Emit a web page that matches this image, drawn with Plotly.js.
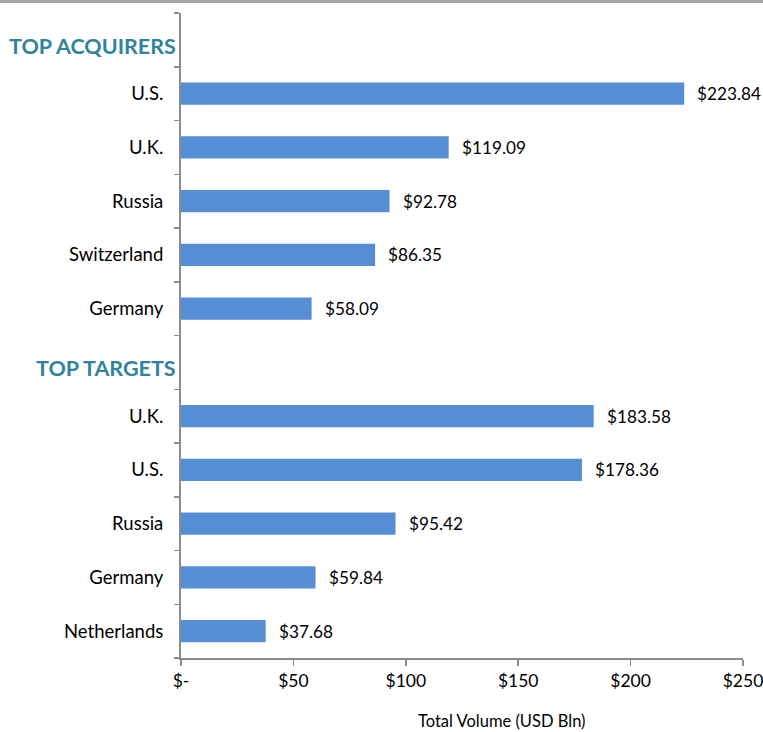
<!DOCTYPE html>
<html>
<head>
<meta charset="utf-8">
<script src="https://cdn.plot.ly/plotly-3.0.1.min.js"></script>
<style>html,body{margin:0;padding:0;background:#fff;}#chart{width:763px;height:732px;}</style>
</head>
<body>
<div id="chart"></div>
<script>
const headerAcquirers = 'TOP ACQUIRERS';
const acquirers = ['U.S.', 'U.K.', 'Russia', 'Switzerland', 'Germany'];
const acquirerValues = [223.84, 119.09, 92.78, 86.35, 58.09];
const headerTargets = 'TOP TARGETS';
const targets = ['U.K.', 'U.S.', 'Russia', 'Germany', 'Netherlands'];
const targetValues = [183.58, 178.36, 95.42, 59.84, 37.68];
const xTickVals = [0, 50, 100, 150, 200, 250];
const xTickText = ['$-', '$50', '$100', '$150', '$200', '$250'];
const xTitle = 'Total Volume (USD Bln)';

// build unique category keys
const cats = [], labels = [], barY = [], barX = [];
cats.push('H1'); labels.push('');
acquirers.forEach((c, i) => { const k = 'A' + i; cats.push(k); labels.push(c); barY.push(k); barX.push(acquirerValues[i]); });
cats.push('H2'); labels.push('');
targets.forEach((c, i) => { const k = 'T' + i; cats.push(k); labels.push(c); barY.push(k); barX.push(targetValues[i]); });

const font = 'Lato, "Open Sans", sans-serif';

const trace = {
  type: 'bar', orientation: 'h', x: barX, y: barY,
  marker: {color: '#558ED5'}, hoverinfo: 'none', cliponaxis: false
};

const annotations = barY.map((y, i) => ({
  x: barX[i], y: y, xref: 'x', yref: 'y', text: '$' + barX[i].toFixed(2),
  showarrow: false, xanchor: 'left', xshift: 11, font: {family: font, size: 17.2, color: '#000'}
}));
[['H1', headerAcquirers], ['H2', headerTargets]].forEach(([k, t]) => annotations.push({
  x: -0.005, xref: 'paper', y: k, yref: 'y', text: '<b>' + t + '</b>', showarrow: false,
  xanchor: 'right', yshift: -6, font: {family: font, size: 21.5, color: '#31849B'}
}));
annotations.push({
  x: 0.57, xref: 'paper', y: 0, yref: 'paper', yanchor: 'middle', yshift: -63,
  text: xTitle, showarrow: false, font: {family: font, size: 16.5, color: '#000'}
});

const layout = {
  width: 763, height: 732,
  margin: {l: 181, r: 20, t: 13, b: 74},
  paper_bgcolor: '#fff', plot_bgcolor: '#fff',
  showlegend: false,
  bargap: 0.59,
  xaxis: {
    range: [0, 250], tickvals: xTickVals, ticktext: xTickText,
    showgrid: false, zeroline: false, showline: true, linecolor: '#8c8c8c', linewidth: 2,
    ticks: 'outside', ticklen: 6, tickwidth: 1.5, tickcolor: '#8c8c8c',
    tickfont: {family: font, size: 17.5, color: '#000'}, ticklabeloverflow: 'allow',
    fixedrange: true
  },
  yaxis: {
    type: 'category', categoryorder: 'array', categoryarray: cats,
    tickvals: cats, ticktext: labels,
    range: [cats.length - 0.5, -0.5],
    tickson: 'boundaries', ticks: 'outside', ticklen: 5, tickwidth: 1.5, tickcolor: '#8c8c8c',
    showline: true, linecolor: '#8c8c8c', linewidth: 2, showgrid: false, zeroline: false,
    tickfont: {family: font, size: 18.5, color: '#000'}, ticklabelstandoff: 12,
    fixedrange: true
  },
  annotations: annotations,
  shapes: [{type: 'line', xref: 'paper', yref: 'paper', x0: -0.35, x1: 1.05, y0: 1.0178, y1: 1.0178,
    line: {color: '#a6a6a6', width: 3}}]
};

Plotly.newPlot('chart', [trace], layout, {displayModeBar: false, staticPlot: true});
</script>
</body>
</html>
